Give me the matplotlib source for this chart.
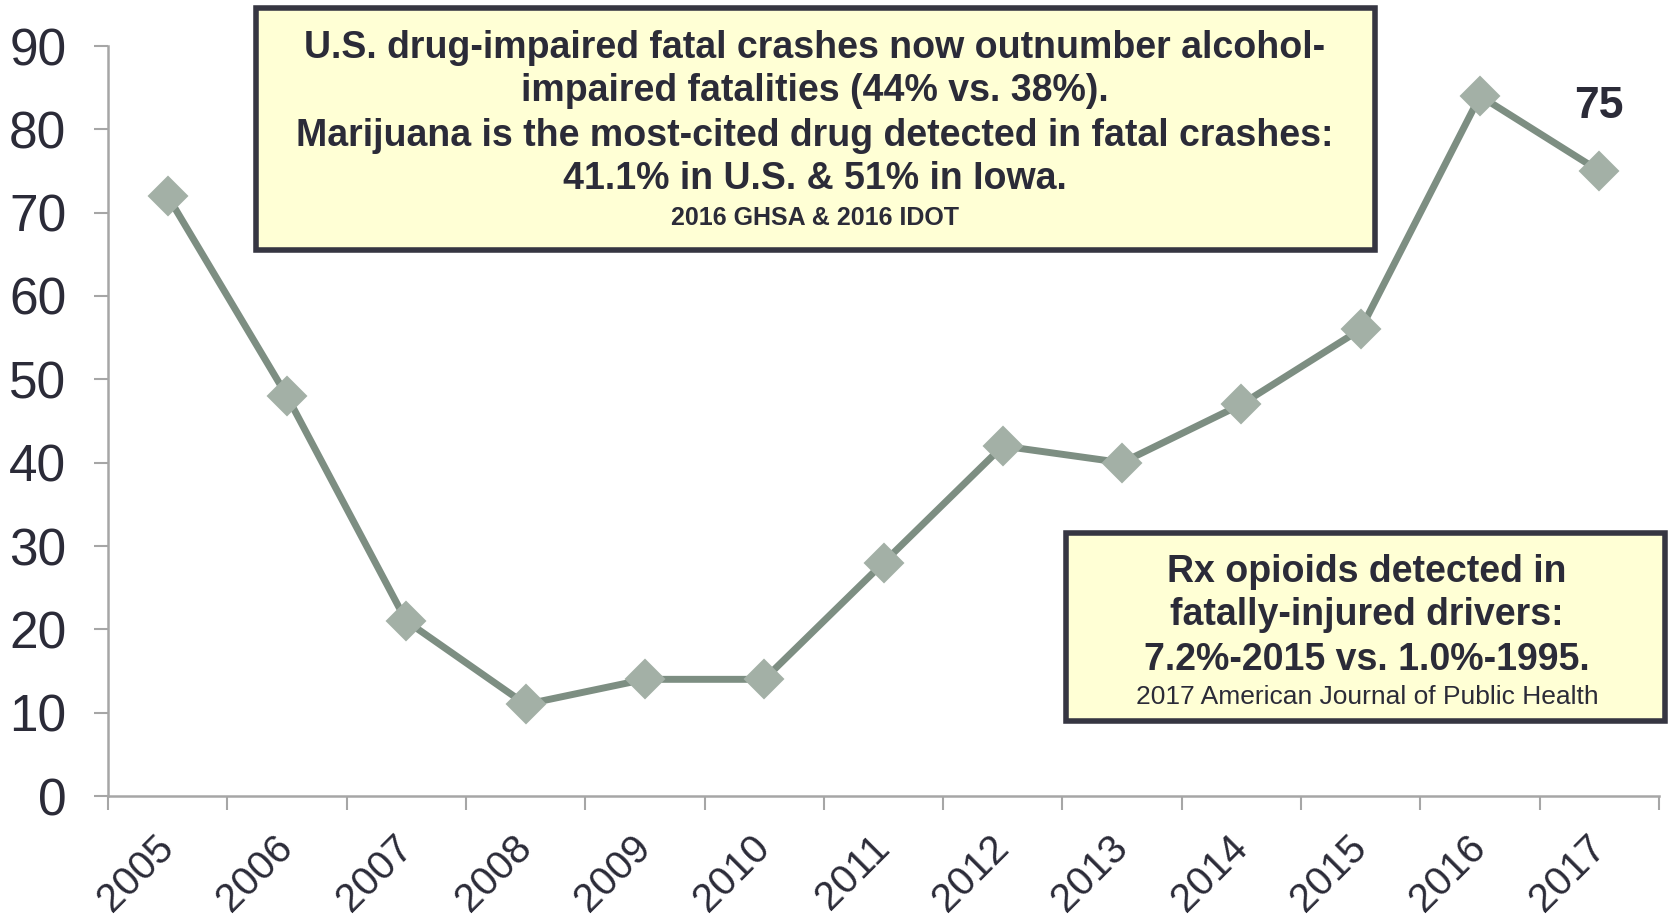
import matplotlib.pyplot as plt
from matplotlib.patches import Rectangle
import numpy as np

plt.rcParams['font.family'] = ['Liberation Sans', 'DejaVu Sans']

years = ['2005', '2006', '2007', '2008', '2009', '2010', '2011',
         '2012', '2013', '2014', '2015', '2016', '2017']
values = [72, 48, 21, 11, 14, 14, 28, 42, 40, 47, 56, 84, 75]
y_ticks = [0, 10, 20, 30, 40, 50, 60, 70, 80, 90]

box1_lines = ['U.S. drug-impaired fatal crashes now outnumber alcohol-',
              'impaired fatalities (44% vs. 38%).',
              'Marijuana is the most-cited drug detected in fatal crashes:',
              '41.1% in U.S. & 51% in Iowa.']
box1_source = '2016 GHSA & 2016 IDOT'
box2_lines = ['Rx opioids detected in',
              'fatally-injured drivers:',
              '7.2%-2015 vs. 1.0%-1995.']
box2_source = '2017 American Journal of Public Health'

W, H = 1668, 919
text_col = '#2b2b38'
axis_col = '#a6a6a6'


def fx(px):
    return px / W


def fy(py):
    return 1 - py / H


fig = plt.figure(figsize=(W / 100, H / 100), dpi=100)
ax = fig.add_axes([fx(108), fy(796), fx(1659) - fx(108), fy(46) - fy(796)])

x = np.arange(len(years))
ax.plot(x, values, color='#7d8e82', lw=5, zorder=3,
        marker='D', ms=19, mfc='#a3b0a6', mec='#a3b0a6', mew=1.5)
ax.text(x[-1], values[-1] + 5.3, str(values[-1]), ha='center', va='bottom',
        fontsize=32, fontweight='bold', color=text_col)

ax.set_xlim(-0.5, len(years) - 0.5)
ax.set_ylim(0, 90)
ax.set_yticks(y_ticks)
ax.set_xticks(x)
ax.set_xticklabels(years, rotation=45, ha='right', va='center',
                   rotation_mode='anchor')
ax.set_xticks(np.arange(-0.5, len(years)), minor=True)

for s in ['top', 'right']:
    ax.spines[s].set_visible(False)
for s in ['left', 'bottom']:
    ax.spines[s].set_color(axis_col)
    ax.spines[s].set_linewidth(1.8)

ax.tick_params(axis='y', labelsize=37, colors=axis_col, labelcolor=text_col,
               length=10, width=1.5, pad=20)
ax.tick_params(axis='x', which='major', labelsize=29, labelcolor=text_col,
               length=0, pad=33)
ax.tick_params(axis='x', which='minor', colors=axis_col, length=10, width=1.5)

# annotation boxes
fig.patches.append(Rectangle((fx(256), fy(250)), fx(1375) - fx(256), fy(8) - fy(250),
                             transform=fig.transFigure, facecolor='#ffffd5',
                             edgecolor='#363642', lw=4, zorder=5))
for line, py in zip(box1_lines, [48, 91, 136, 179]):
    fig.text(fx(815), fy(py), line, ha='center', va='center', fontsize=27,
             fontweight='bold', color=text_col, zorder=6)
fig.text(fx(815), fy(218), box1_source, ha='center', va='center', fontsize=18,
         fontweight='bold', color=text_col, zorder=6)

fig.patches.append(Rectangle((fx(1066), fy(721)), fx(1665) - fx(1066), fy(533) - fy(721),
                             transform=fig.transFigure, facecolor='#ffffd5',
                             edgecolor='#363642', lw=4, zorder=5))
for line, py in zip(box2_lines, [572, 615, 660]):
    fig.text(fx(1367), fy(py), line, ha='center', va='center', fontsize=27,
             fontweight='bold', color=text_col, zorder=6)
fig.text(fx(1367), fy(697), box2_source, ha='center', va='center', fontsize=19,
         color=text_col, zorder=6)

fig.savefig('out.png', dpi=100)
